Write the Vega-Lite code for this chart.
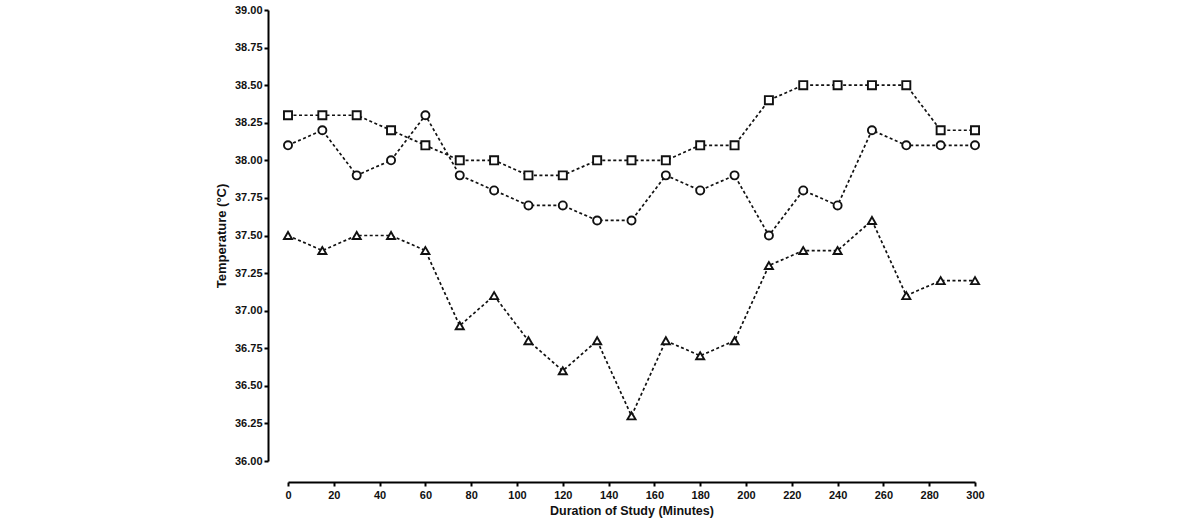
{
  "$schema": "https://vega.github.io/schema/vega-lite/v6.json",
  "autosize": "none",
  "width": 687,
  "height": 451,
  "padding": {"left": 288, "top": 10, "right": 225, "bottom": 60},
  "background": "white",
  "config": {
    "view": {"stroke": null},
    "axis": {
      "labelFont": "Liberation Sans",
      "titleFont": "Liberation Sans",
      "labelFontWeight": "bold",
      "titleFontWeight": "bold",
      "labelColor": "#111",
      "titleColor": "#111",
      "domainColor": "#000",
      "tickColor": "#000",
      "domainWidth": 2,
      "tickWidth": 2,
      "tickSize": 4,
      "grid": false
    }
  },
  "data": {
    "values": [
      {"t": 0, "series": "A", "temp": 38.3}, {"t": 15, "series": "A", "temp": 38.3}, {"t": 30, "series": "A", "temp": 38.3}, {"t": 45, "series": "A", "temp": 38.2}, {"t": 60, "series": "A", "temp": 38.1}, {"t": 75, "series": "A", "temp": 38.0}, {"t": 90, "series": "A", "temp": 38.0}, {"t": 105, "series": "A", "temp": 37.9}, {"t": 120, "series": "A", "temp": 37.9}, {"t": 135, "series": "A", "temp": 38.0}, {"t": 150, "series": "A", "temp": 38.0}, {"t": 165, "series": "A", "temp": 38.0}, {"t": 180, "series": "A", "temp": 38.1}, {"t": 195, "series": "A", "temp": 38.1}, {"t": 210, "series": "A", "temp": 38.4}, {"t": 225, "series": "A", "temp": 38.5}, {"t": 240, "series": "A", "temp": 38.5}, {"t": 255, "series": "A", "temp": 38.5}, {"t": 270, "series": "A", "temp": 38.5}, {"t": 285, "series": "A", "temp": 38.2}, {"t": 300, "series": "A", "temp": 38.2},
      {"t": 0, "series": "B", "temp": 38.1}, {"t": 15, "series": "B", "temp": 38.2}, {"t": 30, "series": "B", "temp": 37.9}, {"t": 45, "series": "B", "temp": 38.0}, {"t": 60, "series": "B", "temp": 38.3}, {"t": 75, "series": "B", "temp": 37.9}, {"t": 90, "series": "B", "temp": 37.8}, {"t": 105, "series": "B", "temp": 37.7}, {"t": 120, "series": "B", "temp": 37.7}, {"t": 135, "series": "B", "temp": 37.6}, {"t": 150, "series": "B", "temp": 37.6}, {"t": 165, "series": "B", "temp": 37.9}, {"t": 180, "series": "B", "temp": 37.8}, {"t": 195, "series": "B", "temp": 37.9}, {"t": 210, "series": "B", "temp": 37.5}, {"t": 225, "series": "B", "temp": 37.8}, {"t": 240, "series": "B", "temp": 37.7}, {"t": 255, "series": "B", "temp": 38.2}, {"t": 270, "series": "B", "temp": 38.1}, {"t": 285, "series": "B", "temp": 38.1}, {"t": 300, "series": "B", "temp": 38.1},
      {"t": 0, "series": "C", "temp": 37.5}, {"t": 15, "series": "C", "temp": 37.4}, {"t": 30, "series": "C", "temp": 37.5}, {"t": 45, "series": "C", "temp": 37.5}, {"t": 60, "series": "C", "temp": 37.4}, {"t": 75, "series": "C", "temp": 36.9}, {"t": 90, "series": "C", "temp": 37.1}, {"t": 105, "series": "C", "temp": 36.8}, {"t": 120, "series": "C", "temp": 36.6}, {"t": 135, "series": "C", "temp": 36.8}, {"t": 150, "series": "C", "temp": 36.3}, {"t": 165, "series": "C", "temp": 36.8}, {"t": 180, "series": "C", "temp": 36.7}, {"t": 195, "series": "C", "temp": 36.8}, {"t": 210, "series": "C", "temp": 37.3}, {"t": 225, "series": "C", "temp": 37.4}, {"t": 240, "series": "C", "temp": 37.4}, {"t": 255, "series": "C", "temp": 37.6}, {"t": 270, "series": "C", "temp": 37.1}, {"t": 285, "series": "C", "temp": 37.2}, {"t": 300, "series": "C", "temp": 37.2}
    ]
  },
  "encoding": {
    "x": {
      "field": "t", "type": "quantitative",
      "scale": {"domain": [0, 300], "nice": false, "zero": false},
      "axis": {"values": [0,20,40,60,80,100,120,140,160,180,200,220,240,260,280,300], "offset": 21, "title": "Duration of Study (Minutes)", "labelFontSize": 11, "titleFontSize": 12.5, "labelPadding": 3, "titlePadding": 4, "labelFlush": false}
    },
    "y": {
      "field": "temp", "type": "quantitative",
      "scale": {"domain": [36, 39], "nice": false, "zero": false},
      "axis": {"values": [36,36.25,36.5,36.75,37,37.25,37.5,37.75,38,38.25,38.5,38.75,39], "format": ".2f", "offset": 20, "title": "Temperature (°C)", "labelFontSize": 11, "titleFontSize": 13, "labelPadding": 2, "titlePadding": 6, "labelFlush": false}
    }
  },
  "layer": [
    {
      "mark": {"type": "line", "color": "#111", "strokeWidth": 1.7, "strokeDash": [3, 2.5]},
      "encoding": {"detail": {"field": "series", "type": "nominal"}}
    },
    {
      "mark": {"type": "point", "filled": false, "fill": "white", "fillOpacity": 1, "stroke": "#111", "strokeWidth": 1.9, "opacity": 1, "size": 65},
      "encoding": {
        "shape": {"field": "series", "type": "nominal", "scale": {"domain": ["A", "B", "C"], "range": ["square", "circle", "triangle-up"]}, "legend": null}
      }
    }
  ]
}
